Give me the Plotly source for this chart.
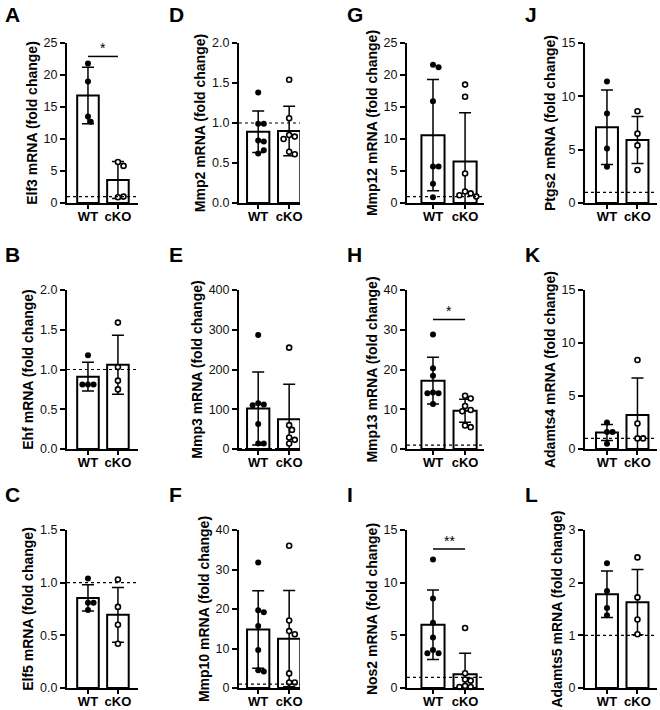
import math
import plotly.graph_objects as go

# ---------------- data ----------------
GROUPS = ["WT", "cKO"]
PANEL_LETTERS = ["A", "B", "C", "D", "E", "F", "G", "H", "I", "J", "K", "L"]
GENES = ["Elf3", "Ehf", "Elf5", "Mmp2", "Mmp3", "Mmp10",
         "Mmp12", "Mmp13", "Nos2", "Ptgs2", "Adamts4", "Adamts5"]
Y_MAX = [25, 2.0, 1.5, 2.0, 400, 40, 25, 40, 15, 15, 15, 3]
Y_DTICK = [5, 0.5, 0.5, 0.5, 100, 10, 5, 10, 5, 5, 5, 1]
REF_LEVEL = 1.0

elf3_wt = [21.8, 19.0, 13.5, 12.7]
elf3_cko = [6.4, 5.8, 0.9, 1.0]
elf3_mean = [16.8, 3.6]
elf3_sd = [4.4, 2.9]

ehf_wt = [1.18, 0.81, 0.81, 0.81]
ehf_cko = [1.59, 1.03, 0.86, 0.75]
ehf_mean = [0.91, 1.06]
ehf_sd = [0.18, 0.37]

elf5_wt = [1.04, 0.81, 0.81, 0.74]
elf5_cko = [1.03, 0.77, 0.60, 0.42]
elf5_mean = [0.855, 0.695]
elf5_sd = [0.125, 0.26]

mmp2_wt = [1.38, 0.99, 0.99, 0.78, 0.77, 0.62, 0.66]
mmp2_cko = [1.54, 1.06, 0.85, 0.83, 0.80, 0.64, 0.61]
mmp2_mean = [0.89, 0.90]
mmp2_sd = [0.26, 0.31]

mmp3_wt = [287, 115, 112, 110, 63, 14, 14]
mmp3_cko = [255, 60, 48, 29, 23, 14]
mmp3_mean = [102, 75]
mmp3_sd = [92, 88]

mmp10_wt = [31.8, 19.7, 19.2, 15.7, 9.6, 4.5, 4.2]
mmp10_cko = [36.0, 17.1, 14.4, 13.6, 3.7, 1.4, 1.4]
mmp10_mean = [14.8, 12.5]
mmp10_sd = [9.8, 12.2]

mmp12_wt = [21.6, 21.2, 15.9, 5.7, 5.7, 3.0, 0.9]
mmp12_cko = [18.5, 16.6, 4.6, 1.8, 1.5, 1.2, 1.0]
mmp12_mean = [10.6, 6.5]
mmp12_sd = [8.7, 7.6]

mmp13_wt = [28.8, 20.3, 18.4, 14.2, 14.0, 14.0, 11.3]
mmp13_cko = [13.4, 12.7, 10.8, 9.8, 9.5, 5.9, 5.5]
mmp13_mean = [17.2, 9.6]
mmp13_sd = [5.9, 2.9]

nos2_wt = [12.2, 8.5, 6.2, 4.8, 3.6, 3.3, 3.3]
nos2_cko = [5.7, 1.4, 0.8, 0.7, 0.2, 0.1, 0.1]
nos2_mean = [6.0, 1.3]
nos2_sd = [3.3, 2.0]

ptgs2_wt = [11.4, 8.4, 5.1, 3.4]
ptgs2_cko = [8.6, 6.5, 5.4, 3.1]
ptgs2_mean = [7.1, 5.9]
ptgs2_sd = [3.5, 2.2]

adamts4_wt = [2.5, 1.6, 1.6, 0.5]
adamts4_cko = [8.4, 2.4, 1.0, 1.0]
adamts4_mean = [1.55, 3.2]
adamts4_sd = [0.75, 3.5]

adamts5_wt = [2.37, 1.84, 1.52, 1.38]
adamts5_cko = [2.48, 1.72, 1.30, 1.02]
adamts5_mean = [1.78, 1.63]
adamts5_sd = [0.44, 0.62]

SIG_LETTERS = ["A", "H", "I"]
SIG_LEVEL = [22.9, 32.6, 13.2]
SIG_TEXT = ["*", "*", "**"]

WT_POINTS = [elf3_wt, ehf_wt, elf5_wt, mmp2_wt, mmp3_wt, mmp10_wt,
             mmp12_wt, mmp13_wt, nos2_wt, ptgs2_wt, adamts4_wt, adamts5_wt]
CKO_POINTS = [elf3_cko, ehf_cko, elf5_cko, mmp2_cko, mmp3_cko, mmp10_cko,
              mmp12_cko, mmp13_cko, nos2_cko, ptgs2_cko, adamts4_cko, adamts5_cko]
MEANS = [elf3_mean, ehf_mean, elf5_mean, mmp2_mean, mmp3_mean, mmp10_mean,
         mmp12_mean, mmp13_mean, nos2_mean, ptgs2_mean, adamts4_mean, adamts5_mean]
SDS = [elf3_sd, ehf_sd, elf5_sd, mmp2_sd, mmp3_sd, mmp10_sd,
       mmp12_sd, mmp13_sd, nos2_sd, ptgs2_sd, adamts4_sd, adamts5_sd]

# ---------------- layout geometry (pixels) ----------------
W, H = 660, 710
COL_LEFT = [67, 239, 407, 585]
COL_RIGHT = [138, 300, 484, 657]
COL_XRANGE = [(-0.70, 1.67), (-0.62, 1.35), (-0.81, 1.59), (-0.72, 1.64)]
ROW_TOP = [43, 290, 530]
ROW_BOT = [203, 449, 688]
LETTER_X = [3, 167, 345, 523]
LETTER_Y = [15, 255, 495]
FONT = "Arial, Liberation Sans, sans-serif"
DOT = 5.6  # marker diameter in px, for swarm spacing


def swarm(values, px_per_y, px_per_x):
    placed = []
    offs = []
    cands = [0]
    for k in range(1, 8):
        cands += [k * 0.5, -k * 0.5]
    for v in values:
        y = v * px_per_y
        chosen = 0
        for c in cands:
            x = c * DOT
            if all(math.hypot(x - px, y - py) >= DOT * 0.98 for px, py in placed):
                chosen = x
                break
        placed.append((chosen, y))
        offs.append(chosen / px_per_x)
    return offs


fig = go.Figure()
layout = dict(
    width=W, height=H, margin=dict(l=0, r=0, t=0, b=0, autoexpand=False),
    paper_bgcolor="white", plot_bgcolor="white", showlegend=False,
    font=dict(family=FONT, color="black"),
)
shapes = []
annotations = []

for i, letter in enumerate(PANEL_LETTERS):
    col, row = i // 3, i % 3
    n = i + 1
    xa = "x" if n == 1 else f"x{n}"
    ya = "y" if n == 1 else f"y{n}"
    xr = COL_XRANGE[col]
    px_per_x = (COL_RIGHT[col] - COL_LEFT[col]) / (xr[1] - xr[0])
    px_per_y = (ROW_BOT[row] - ROW_TOP[row]) / Y_MAX[i]

    fig.add_trace(go.Bar(
        x=[0, 1], y=MEANS[i], width=0.72, xaxis=xa, yaxis=ya,
        marker=dict(color="white", line=dict(color="black", width=2)),
        error_y=dict(type="data", array=SDS[i], symmetric=True,
                     color="black", thickness=1.5, width=6),
    ))
    for g, (pts, fill) in enumerate([(WT_POINTS[i], "black"), (CKO_POINTS[i], "white")]):
        offs = swarm(pts, px_per_y, px_per_x)
        fig.add_trace(go.Scatter(
            x=[g + o for o in offs], y=pts, mode="markers", xaxis=xa, yaxis=ya,
            cliponaxis=False,
            marker=dict(size=6 if g == 0 else 5, color=fill,
                        line=dict(color="black", width=0 if g == 0 else 1.6)),
        ))

    dec = Y_DTICK[i] < 1
    layout["xaxis" if n == 1 else f"xaxis{n}"] = dict(
        domain=[COL_LEFT[col] / W, COL_RIGHT[col] / W], anchor=ya,
        range=list(xr), showline=True, linewidth=2, linecolor="black",
        ticks="outside", ticklen=4, tickwidth=2, tickcolor="black",
        ticklabelstandoff=-4,
        tickvals=[0, 1], ticktext=[f"<b>{g}</b>" for g in GROUPS],
        tickfont=dict(size=13, family=FONT, color="black"),
        showgrid=False, zeroline=False, fixedrange=True, automargin=False,
    )
    layout["yaxis" if n == 1 else f"yaxis{n}"] = dict(
        domain=[1 - ROW_BOT[row] / H, 1 - ROW_TOP[row] / H], anchor=xa,
        range=[0, Y_MAX[i]], dtick=Y_DTICK[i], tick0=0,
        tickformat=".1f" if dec else "d",
        showline=True, linewidth=2, linecolor="black",
        ticks="outside", ticklen=5, tickwidth=2, tickcolor="black",
        tickfont=dict(size=12.5, family=FONT, color="#111"),
        title=dict(text=f"<b>{GENES[i]} mRNA (fold change)</b>", standoff=3,
                   font=dict(size=14, family=FONT, color="black")),
        showgrid=False, zeroline=False, fixedrange=True, automargin=False,
    )
    # reference line at fold change 1
    shapes.append(dict(type="line", xref=f"{xa} domain", yref=ya,
                       x0=0, x1=1, y0=REF_LEVEL, y1=REF_LEVEL, layer="above",
                       line=dict(color="black", width=1.2, dash="dot")))
    annotations.append(dict(
        text=f"<b>{letter}</b>", xref="paper", yref="paper",
        x=LETTER_X[col] / W, y=1 - LETTER_Y[row] / H,
        xanchor="left", yanchor="middle", showarrow=False,
        font=dict(size=21, family=FONT, color="black")))

for letter, lvl, txt in zip(SIG_LETTERS, SIG_LEVEL, SIG_TEXT):
    n = PANEL_LETTERS.index(letter) + 1
    xa = "x" if n == 1 else f"x{n}"
    ya = "y" if n == 1 else f"y{n}"
    shapes.append(dict(type="line", xref=xa, yref=ya, x0=0, x1=1, y0=lvl, y1=lvl,
                       line=dict(color="black", width=1.5)))
    annotations.append(dict(text=txt, xref=xa, yref=ya, x=0.5, y=lvl,
                            yanchor="bottom", showarrow=False, yshift=-2,
                            font=dict(size=14, family=FONT, color="black")))

layout["shapes"] = shapes
layout["annotations"] = annotations
fig.update_layout(**layout)
fig.write_html(
    "out.html",
    config={"displayModeBar": False},
    post_script="document.body.style.margin='0';document.body.style.overflow='hidden';",
)
